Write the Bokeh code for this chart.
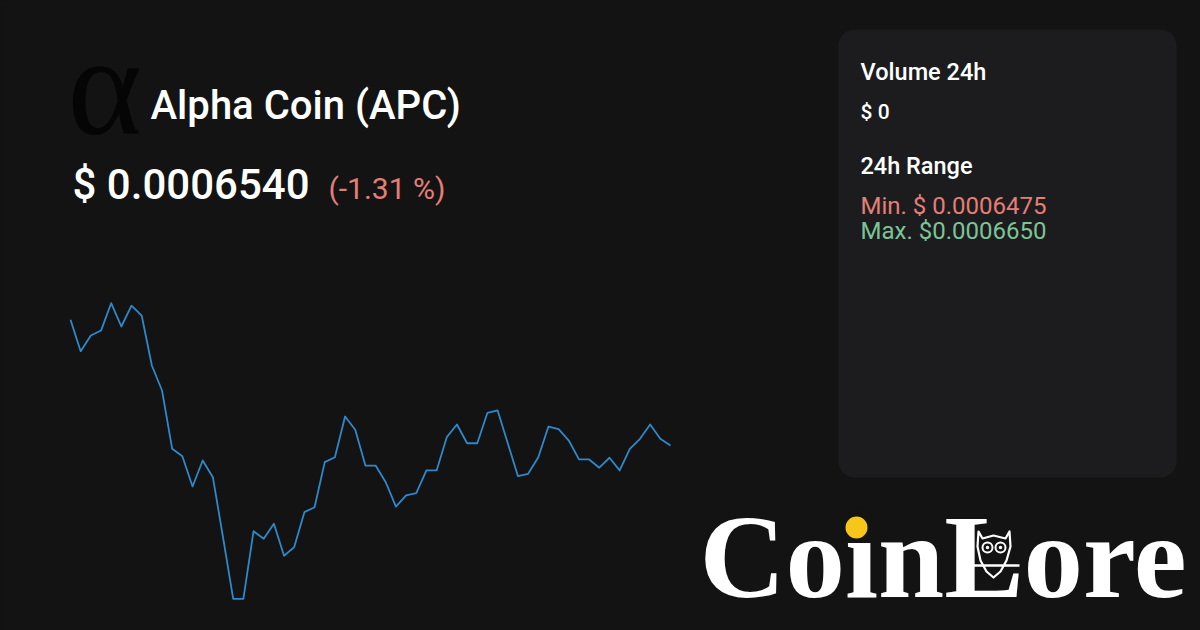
from bokeh.plotting import figure
from bokeh.models import Range1d, BoxAnnotation
from bokeh.core.properties import value
from bokeh.embed import file_html
from bokeh.resources import INLINE

# ---------------- data ----------------
coin_symbol = "α"
coin_name = "Alpha Coin (APC)"
price_text = "$ 0.0006540"
change_text = "(-1.31 %)"
volume_label = "Volume 24h"
volume_value = "$ 0"
range_label = "24h Range"
range_min_text = "Min. $ 0.0006475"
range_max_text = "Max. $0.0006650"
brand = "CoinLore"

prices = [
    0.00066402, 0.00066216, 0.00066309, 0.00066338, 0.00066500, 0.00066362,
    0.00066486, 0.00066427, 0.00066131, 0.00065983, 0.00065638, 0.00065594,
    0.00065415, 0.00065569, 0.00065470, 0.00065113, 0.00064750, 0.00064750,
    0.00065150, 0.00065105, 0.00065194, 0.00065005, 0.00065056, 0.00065263,
    0.00065292, 0.00065559, 0.00065588, 0.00065829, 0.00065751, 0.00065539,
    0.00065539, 0.00065440, 0.00065296, 0.00065362, 0.00065375, 0.00065510,
    0.00065510, 0.00065707, 0.00065782, 0.00065671, 0.00065671, 0.00065851,
    0.00065865, 0.00065671, 0.00065476, 0.00065490, 0.00065588, 0.00065770,
    0.00065754, 0.00065687, 0.00065575, 0.00065575, 0.00065526, 0.00065585,
    0.00065510, 0.00065638, 0.00065697, 0.00065782, 0.00065697, 0.00065658,
]

# ---------------- styles / layout ----------------
BG = "#131313"
PANEL = "#1c1c1f"
LINE = "#2f88c9"
RED = "#e47f77"
GREEN = "#7cc497"
FONT = "Roboto"
FONT_MED = "Roboto Medium"
BASE_K = 0.37  # compensation so that y is the visual baseline

W, H = 1200, 630
OFF = 0
chart_left, chart_right = 70.0, 670.0
chart_top, chart_bottom = 302.7, 598.3

p = figure(width=W, height=H, output_backend="svg", toolbar_location=None,
           x_range=Range1d(OFF, OFF + W), y_range=Range1d(OFF + H, OFF),
           min_border=0, min_border_left=0, min_border_right=0,
           min_border_top=0, min_border_bottom=0)
p.xaxis.visible = False
p.yaxis.visible = False
p.xgrid.visible = False
p.ygrid.visible = False
p.outline_line_color = None
p.background_fill_color = BG
p.border_fill_color = BG

# price line on its own scales
n = len(prices)
step = (chart_right - chart_left) / (n - 1)
pmax, pmin = max(prices), min(prices)
ppx = (pmax - pmin) / (chart_bottom - chart_top)
p.extra_x_ranges = {"idx": Range1d((OFF - chart_left) / step, (OFF + W - chart_left) / step)}
p.extra_y_ranges = {"price": Range1d(pmin - (OFF + H - chart_bottom) * ppx,
                                     pmax + (chart_top - OFF) * ppx)}
p.line(x=list(range(n)), y=prices, x_range_name="idx", y_range_name="price",
       line_color=LINE, line_width=1.8, line_join="round")

# right panel
p.add_layout(BoxAnnotation(left=838, right=1176, top=29, bottom=477,
                           fill_color=PANEL, fill_alpha=1.0, line_color=None,
                           border_radius=16, level="underlay"))

def txt(x, y, s, size, color, font=FONT, style="normal"):
    p.text(x=[x], y=[y - BASE_K * size], text=[s], text_font=value(font),
           text_font_size=f"{size}px", text_color=color,
           text_baseline="alphabetic", text_align="left", text_font_style=style)

# header
txt(67, 138, coin_symbol, 142, "#050505", font="Liberation Serif")
txt(150, 120, coin_name, 40, "#ffffff", font=FONT_MED)
txt(72, 200, price_text, 42, "#ffffff", font=FONT_MED)
txt(328, 199, change_text, 30, RED)

# panel texts
txt(860, 80, volume_label, 23.5, "#ffffff", font=FONT_MED)
txt(860, 119, volume_value, 21, "#ffffff", font=FONT_MED)
txt(860, 174, range_label, 23.5, "#ffffff", font=FONT_MED)
txt(860, 214, range_min_text, 24, RED)
txt(860, 239, range_max_text, 24, GREEN)

# brand logo
LX = 699
txt(LX, 601, brand, 119, "#ffffff", font="Liberation Serif", style="bold")
# hide the white i-dot, replace it with the yellow coin dot
p.scatter(x=[LX + 162], y=[520], size=26, marker="circle", fill_color=BG, line_color=None)
p.scatter(x=[LX + 157], y=[527], size=22, marker="circle", fill_color="#f7c61a", line_color=None)
# owl perched on the L
ox = LX + 294
p.patch(x=[ox + v for v in [-15, -11, 0, 12, 16, 17, 13, 7, 0, -7, -13, -16]],
        y=[531, 538, 535, 538, 531, 546, 560, 571, 577, 571, 560, 546],
        fill_color=BG, line_color="#ffffff", line_width=2.2, line_join="round")
p.ellipse(x=[ox - 6, ox + 7], y=[547, 547], width=[10, 10], height=[10, 10],
          fill_color=BG, line_color="#ffffff", line_width=2)
p.scatter(x=[ox - 6, ox + 7], y=[547, 547], size=3.5, marker="circle",
          fill_color="#ffffff", line_color=None)
p.segment(x0=[ox - 22], y0=[565], x1=[ox + 26], y1=[565], line_color="#ffffff", line_width=2.5)

html = file_html(p, INLINE)
html = html.replace("<body>", '<body style="background-color:#131313;">')
open("out.html", "w").write(html)
